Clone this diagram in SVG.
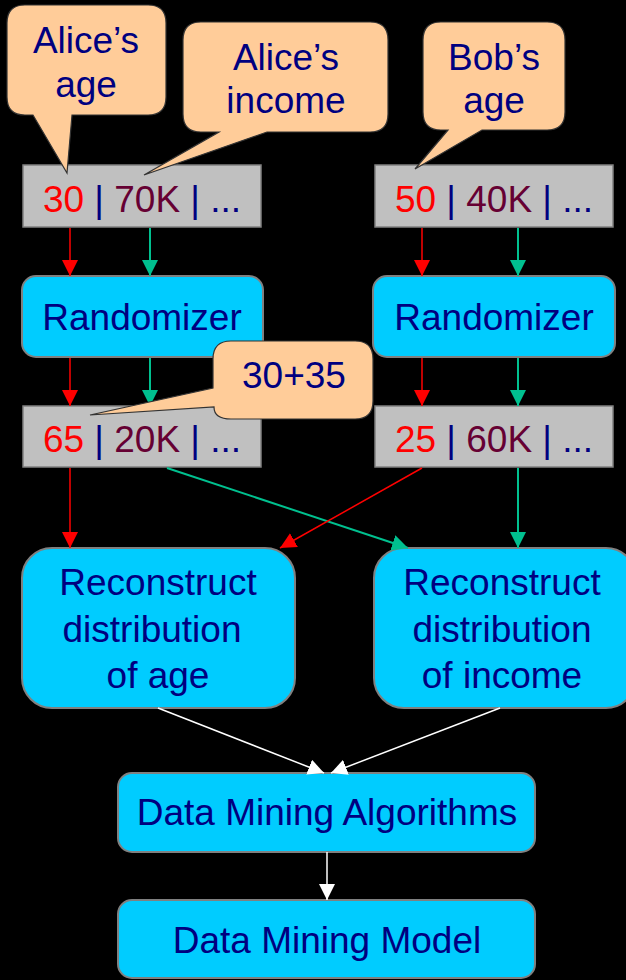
<svg xmlns="http://www.w3.org/2000/svg" width="626" height="980" viewBox="0 0 626 980">
  <style>
    text { font-family: "Liberation Sans", Arial, sans-serif; font-size: 37px; fill: #000080; text-anchor: middle; }
    .rec { fill: #C0C0C0; stroke: #808080; stroke-width: 1.5; }
    .proc { fill: #00CCFF; stroke: #808080; stroke-width: 2; }
    .callout { fill: #FFCC99; stroke: #333333; stroke-width: 1.2; }
    .age { fill: #FF0000; }
    .inc { fill: #660033; }
    .r { stroke: #FF0000; stroke-width: 1.5; fill: none; }
    .g { stroke: #00C08F; stroke-width: 2; fill: none; }
    .w { stroke: #FFFFFF; stroke-width: 1.5; fill: none; }
  </style>
  <defs>
    <marker id="ahRed" viewBox="0 0 16 16" refX="16" refY="8" markerWidth="16" markerHeight="16" markerUnits="userSpaceOnUse" orient="auto">
      <path d="M0,0 L16,8 L0,16 z" fill="#FF0000"/>
    </marker>
    <marker id="ahGreen" viewBox="0 0 16 16" refX="16" refY="8" markerWidth="16" markerHeight="16" markerUnits="userSpaceOnUse" orient="auto">
      <path d="M0,0 L16,8 L0,16 z" fill="#00C08F"/>
    </marker>
    <marker id="ahWhite" viewBox="0 0 16 16" refX="16" refY="8" markerWidth="16" markerHeight="16" markerUnits="userSpaceOnUse" orient="auto">
      <path d="M0,0 L16,8 L0,16 z" fill="#FFFFFF"/>
    </marker>
  </defs>
  <rect width="626" height="980" fill="#000000"/>

  <!-- record rows -->
  <g id="recAlice">
    <rect class="rec" x="23" y="165" width="238" height="62"/>
    <text x="142" y="212"><tspan class="age">30</tspan> | <tspan class="inc">70K</tspan> | ...</text>
  </g>
  <g id="recBob">
    <rect class="rec" x="375" y="165" width="238" height="62"/>
    <text x="494" y="212"><tspan class="age">50</tspan> | <tspan class="inc">40K</tspan> | ...</text>
  </g>

  <!-- randomizers -->
  <g id="randA">
    <rect class="proc" x="22" y="276" width="241" height="81" rx="14"/>
    <text x="142" y="330">Randomizer</text>
  </g>
  <g id="randB">
    <rect class="proc" x="373" y="276" width="242" height="81" rx="14"/>
    <text x="494" y="330">Randomizer</text>
  </g>

  <!-- randomized rows -->
  <g id="recAliceRand">
    <rect class="rec" x="23" y="406" width="238" height="61"/>
    <text x="142" y="452"><tspan class="age">65</tspan> | <tspan class="inc">20K</tspan> | ...</text>
  </g>
  <g id="recBobRand">
    <rect class="rec" x="375" y="406" width="238" height="61"/>
    <text x="494" y="452"><tspan class="age">25</tspan> | <tspan class="inc">60K</tspan> | ...</text>
  </g>

  <!-- reconstruction -->
  <g id="reconAge">
    <rect class="proc" x="22" y="548" width="273" height="160" rx="30"/>
    <text x="158" y="595">Reconstruct</text>
    <text x="152" y="642">distribution</text>
    <text x="158" y="688">of age</text>
  </g>
  <g id="reconIncome">
    <rect class="proc" x="374" y="548" width="262" height="160" rx="30"/>
    <text x="502" y="595">Reconstruct</text>
    <text x="502" y="642">distribution</text>
    <text x="502" y="688">of income</text>
  </g>

  <g id="dmAlgo">
    <rect class="proc" x="118" y="773" width="417" height="79" rx="14"/>
    <text x="327" y="825">Data Mining Algorithms</text>
  </g>
  <g id="dmModel">
    <rect class="proc" x="118" y="900" width="417" height="78" rx="14"/>
    <text x="327" y="953">Data Mining Model</text>
  </g>

  <!-- connectors -->
  <g id="connectors">
    <line class="r" x1="70" y1="228" x2="70" y2="276" marker-end="url(#ahRed)"/>
    <line class="g" x1="150" y1="228" x2="150" y2="276" marker-end="url(#ahGreen)"/>
    <line class="r" x1="422" y1="228" x2="422" y2="276" marker-end="url(#ahRed)"/>
    <line class="g" x1="518" y1="228" x2="518" y2="276" marker-end="url(#ahGreen)"/>

    <line class="r" x1="70" y1="358" x2="70" y2="406" marker-end="url(#ahRed)"/>
    <line class="g" x1="150" y1="358" x2="150" y2="406" marker-end="url(#ahGreen)"/>
    <line class="r" x1="422" y1="358" x2="422" y2="406" marker-end="url(#ahRed)"/>
    <line class="g" x1="518" y1="358" x2="518" y2="406" marker-end="url(#ahGreen)"/>

    <line class="r" x1="70" y1="468" x2="70" y2="548" marker-end="url(#ahRed)"/>
    <line class="g" x1="167" y1="468" x2="408" y2="548" marker-end="url(#ahGreen)"/>
    <line class="r" x1="422" y1="468" x2="280" y2="548" marker-end="url(#ahRed)"/>
    <line class="g" x1="518" y1="468" x2="518" y2="548" marker-end="url(#ahGreen)"/>

    <line class="w" x1="158" y1="708" x2="324" y2="773" marker-end="url(#ahWhite)"/>
    <line class="w" x1="500" y1="708" x2="331" y2="773" marker-end="url(#ahWhite)"/>
    <line class="w" x1="327" y1="852" x2="327" y2="900" marker-end="url(#ahWhite)"/>
  </g>

  <!-- callouts -->
  <g id="calloutAliceAge">
    <path class="callout" d="M25,5 H148 Q166,5 166,23 V97 Q166,115 148,115 H72 L67,173 L33,115 H25 Q7,115 7,97 V23 Q7,5 25,5 Z"/>
    <text x="86" y="53">Alice’s</text>
    <text x="86" y="97">age</text>
  </g>
  <g id="calloutAliceIncome">
    <path class="callout" d="M201,22 H370 Q388,22 388,40 V114 Q388,132 370,132 H267 L144,175 L219,132 H201 Q183,132 183,114 V40 Q183,22 201,22 Z"/>
    <text x="286" y="70">Alice’s</text>
    <text x="286" y="113">income</text>
  </g>
  <g id="calloutBobAge">
    <path class="callout" d="M441,22 H547 Q565,22 565,40 V112 Q565,130 547,130 H482 L415,169 L448,130 H441 Q423,130 423,112 V40 Q423,22 441,22 Z"/>
    <text x="494" y="70">Bob’s</text>
    <text x="494" y="113">age</text>
  </g>
  <g id="calloutNoise">
    <path class="callout" d="M231,341 H355 Q373,341 373,359 V401 Q373,419 355,419 H231 Q214,419 214,407 L90,415 L213,388 V359 Q213,341 231,341 Z"/>
    <text x="294" y="388">30+35</text>
  </g>
</svg>
